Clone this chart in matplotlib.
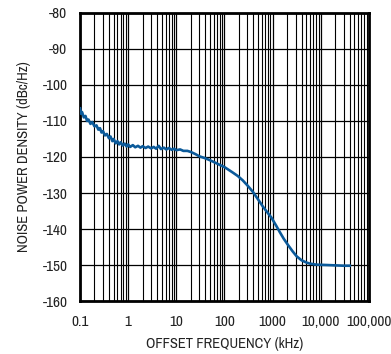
import matplotlib
matplotlib.use("Agg")
import matplotlib.pyplot as plt
from matplotlib import font_manager

freq_khz = [0.1, 0.105, 0.11, 0.12, 0.13, 0.14, 0.15, 0.165, 0.18, 0.2, 0.22, 0.24, 0.26,
            0.28, 0.3, 0.33, 0.36, 0.4, 0.43, 0.47, 0.5, 0.55, 0.6, 0.65, 0.7, 0.77,
            0.85, 0.93, 1.0, 1.1, 1.25, 1.4, 1.6, 1.8, 2.0, 2.3, 2.6, 3.0, 3.4, 3.8,
            4.3, 4.8, 5.5, 6.2, 7, 8, 9, 10, 12, 14, 17, 20, 25, 30, 39, 50, 65, 80,
            100, 120, 148, 190, 240, 300, 390, 500, 630, 800, 950, 1200, 1400, 1700,
            2100, 2600, 3160, 4000, 5000, 5900, 8000, 13000, 20000, 30000, 40000]
noise_dbc = [-106.5, -108.0, -107.5, -109.0, -108.6, -110.0, -109.6, -110.8, -110.3,
             -111.5, -111.2, -112.4, -112.0, -113.2, -112.8, -114.0, -113.6, -114.8,
             -114.3, -115.6, -115.0, -116.2, -115.6, -116.5, -115.9, -116.8, -116.3,
             -117.1, -116.5, -117.2, -116.7, -117.3, -116.9, -117.4, -117.0, -117.5,
             -117.1, -117.6, -117.2, -117.7, -116.9, -117.8, -117.4, -117.9, -117.5,
             -118.0, -117.7, -118.1, -117.9, -118.3, -118.3, -118.6, -119.2, -119.8,
             -120.3, -120.9, -121.6, -122.2, -122.8, -123.5, -124.3, -125.3, -126.5,
             -127.9, -129.7, -131.8, -133.8, -135.6, -136.9, -139.2, -140.8, -142.7,
             -144.5, -146.2, -147.6, -148.7, -149.3, -149.6, -149.9, -150.0, -150.1,
             -150.2, -150.2]

x_ticks = [0.1, 1, 10, 100, 1000, 10000, 100000]
x_tick_labels = ["0.1", "1", "10", "100", "1000", "10,000", "100,000"]
y_ticks = [-80, -90, -100, -110, -120, -130, -140, -150, -160]

names = {f.name for f in font_manager.fontManager.ttflist}
fam = ["Liberation Sans Narrow", "Arial Narrow", "Archivo Narrow", "PT Sans Narrow",
       "Roboto Condensed", "Liberation Sans", "DejaVu Sans"]
chosen = [f for f in fam if f in names][:1] + ["DejaVu Sans"]
plt.rcParams["font.family"] = chosen

fig = plt.figure(figsize=(3.91, 3.54), dpi=100)
ax = fig.add_axes([0.2046, 0.1497, 0.739, 0.8136])

ax.set_xscale("log")
ax.set_xlim(0.1, 100000)
ax.set_ylim(-160, -80)

ax.plot(freq_khz, noise_dbc, color="#0b5a9a", lw=1.9, solid_joinstyle="round", zorder=3)

ax.set_xticks(x_ticks)
ax.set_xticklabels(x_tick_labels)
ax.set_yticks(y_ticks)
ax.set_yticklabels([str(v) for v in y_ticks])
ax.xaxis.set_minor_locator(matplotlib.ticker.LogLocator(base=10, subs=range(2, 10), numticks=100))
ax.xaxis.set_minor_formatter(matplotlib.ticker.NullFormatter())

ax.grid(True, which="major", axis="both", color="black", lw=0.9)
ax.grid(True, which="minor", axis="x", color="black", lw=0.8)
ax.tick_params(which="both", length=0, labelsize=11, colors="#222222")
ax.tick_params(axis="y", pad=9)
ax.tick_params(axis="x", pad=10)
for s in ax.spines.values():
    s.set_linewidth(2.0)
    s.set_color("black")
ax.set_axisbelow(True)

ax.set_xlabel("OFFSET FREQUENCY (kHz)", fontsize=10.5, labelpad=6, color="#222222")
ax.set_ylabel("NOISE POWER DENSITY (dBc/Hz)", fontsize=10.5, labelpad=8, color="#222222")

fig.savefig("out.png", dpi=100)
